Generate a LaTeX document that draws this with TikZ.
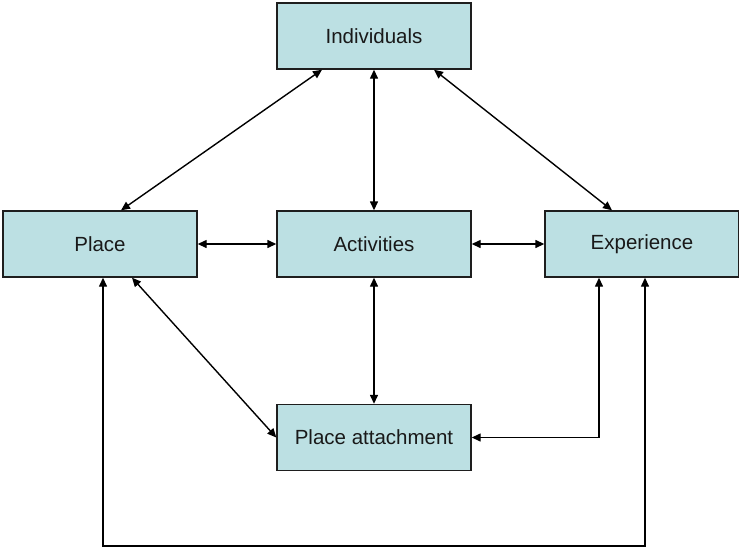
\documentclass[tikz,border=0pt]{standalone}
\usepackage{fontspec}
\setmainfont{Liberation Sans}
\usetikzlibrary{arrows.meta,calc}
\definecolor{boxfill}{RGB}{188,224,227}
\definecolor{boxline}{RGB}{30,30,30}
\begin{document}
\begin{tikzpicture}[x=1pt,y=-1pt,
  box/.style={draw=boxline,fill=boxfill,line width=1.4pt,minimum width=194pt,minimum height=66pt,inner sep=0pt,
    text=black!90,font=\fontsize{20.5}{23}\selectfont},
  conn/.style={line width=1.4pt,{Triangle[length=9pt,width=8pt]}-{Triangle[length=9pt,width=8pt]}}]
\useasboundingbox (0,0) rectangle (739,549);
\node[box] (ind) at (374,36) {Individuals};
\node[box] (place) at (100,244) {Place};
\node[box] (act) at (374,244) {Activities};
\node[box] (exp) at (642,244) {Experience};
\node[box] (pa) at (374,437.5) {Place attachment};
\coordinate (b) at (0,546);
\draw[conn] ([xshift=-52pt]ind.south) -- ([xshift=21pt]place.north);
\draw[conn] (ind.south) -- (act.north);
\draw[conn] ([xshift=60pt]ind.south) -- ([xshift=-30pt]exp.north);
\draw[conn] (place.east) -- (act.west);
\draw[conn] (act.east) -- (exp.west);
\draw[conn] (act.south) -- (pa.north);
\draw[conn] ([xshift=32pt]place.south) -- (pa.west);
\draw[conn] ([xshift=-43pt]exp.south) |- (pa.east);
\draw[conn] ([xshift=3pt]place.south) -- ([xshift=3pt]place.south |- b) -| ([xshift=3pt]exp.south);
\end{tikzpicture}
\end{document}
